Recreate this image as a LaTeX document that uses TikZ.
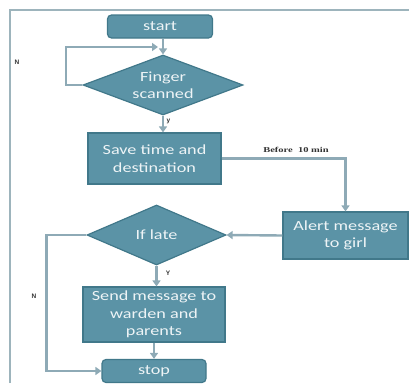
\documentclass[tikz,border=0pt]{standalone}
\usepackage{fontspec}
\usetikzlibrary{shapes.geometric,arrows.meta}
\newfontfamily\boxfont[FakeStretch=1.3]{Carlito}
\newfontfamily\notefont[FakeStretch=1.4]{Liberation Serif}
\newfontfamily\tagfont{Liberation Sans}
\definecolor{boxfill}{HTML}{5B93A6}
\definecolor{boxline}{HTML}{41788A}
\definecolor{flow}{HTML}{8EAAB6}
\definecolor{framecol}{HTML}{9DB4BC}
\definecolor{boxtext}{HTML}{EEF4F6}
\definecolor{tagcol}{HTML}{333333}
\tikzset{
  base/.style={fill=boxfill, draw=boxline, line width=1.2pt, text=boxtext,
    font=\boxfont\fontsize{14}{17.5}\selectfont, align=center, inner sep=0pt},
  procbox/.style={base, rectangle},
  termbox/.style={base, rectangle, rounded corners=4pt},
  decision/.style={base, diamond},
  ontext/.style={text=boxtext, font=\boxfont\fontsize{14}{17.5}\selectfont, align=center, inner sep=0pt},
  flowline/.style={draw=flow, line width=2.4pt, -{Triangle[length=6pt,width=8pt]}},
  tag/.style={text=tagcol, font=\tagfont\bfseries\fontsize{6.5}{7}\selectfont, inner sep=0pt},
  note/.style={text=tagcol, font=\notefont\bfseries\fontsize{7.5}{8}\selectfont, inner sep=0pt},
  frameline/.style={draw=framecol, line width=2pt}
}
\begin{document}
\begin{tikzpicture}[x=1pt,y=-1pt]
\useasboundingbox (0,0) rectangle (409,383);
% outer frame
\coordinate (fa) at (9.5,383);
\coordinate (fb) at (9.5,9.5);
\coordinate (fc) at (409,9.5);
\draw[frameline] (fa) -- (fb) -- (fc);

% flowchart blocks
\node[termbox, minimum width=105pt, minimum height=23pt] (start) at (160,26.5) {start};
\node[decision, minimum width=160pt, minimum height=60pt] (finger) at (163,85) {};
\node[ontext] (fingertxt) at (finger) {Finger\\scanned};
\node[procbox, minimum width=133pt, minimum height=51pt] (save) at (154.5,158.5) {Save time and\\destination};
\node[procbox, minimum width=125pt, minimum height=47pt] (alert) at (345.5,235.5) {Alert message\\to girl};
\node[decision, minimum width=139pt, minimum height=60pt] (late) at (156.5,235) {};
\node[ontext] (latetxt) at (late) {If late};
\node[procbox, minimum width=142pt, minimum height=55pt] (send) at (154,314.5) {Send message to\\warden and\\parents};
\node[termbox, minimum width=104pt, minimum height=23pt] (stop) at (154,371) {stop};

% labels
\node[tag] (n1) at (17,62) {N};
\node[tag] (y1) at (168.5,121) {y};
\node[tag] (y2) at (168,273) {Y};
\node[tag] (n2) at (34,296) {N};
\node[note] (before) at (296,150) {Before\ \ 10 min};

% connectors
\coordinate (loopa) at (66,47);
\coordinate (loopb) at (158,47);
\draw[flowline] (start.south -| finger.north) -- (finger.north);
\draw[flowline, -{Triangle[length=6pt,width=8pt]}] (finger.west) -| (loopa) -- (loopb);
\draw[flowline] (finger.south) -- (finger.south |- save.north);
\draw[flowline] (save.east) -| (alert.north);
\draw[flowline] (alert.west) -- (late.east);
\draw[flowline] (late.south) -- (late.south |- send.north);
\draw[flowline] (send.south) -- (stop.north);
\draw[flowline] (late.west) -- ++(-40,0) |- (stop.west);
\end{tikzpicture}
\end{document}
